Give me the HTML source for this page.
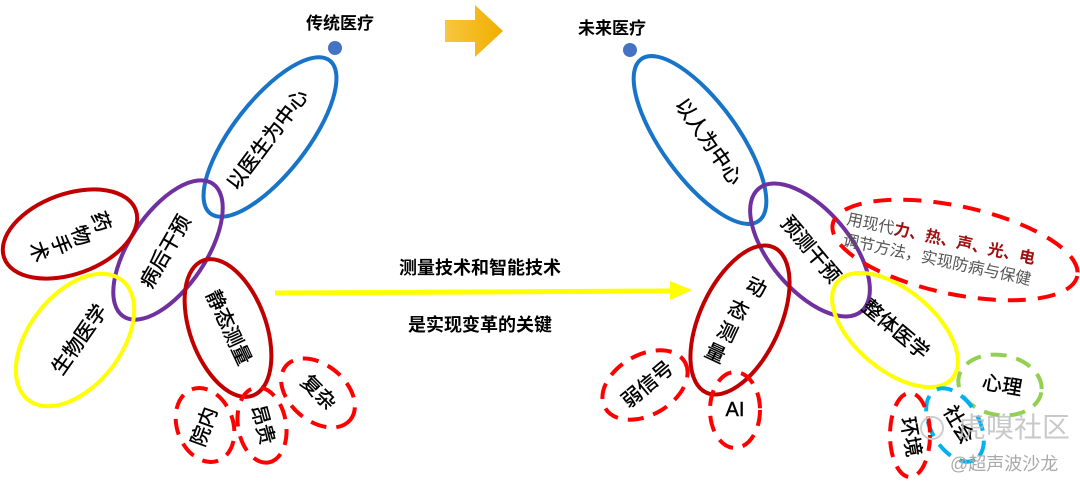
<!DOCTYPE html>
<html><head><meta charset="utf-8"><style>
html,body{margin:0;padding:0;background:#fff;}
svg text{font-family:"Liberation Sans","Noto Sans CJK SC",sans-serif;}
</style></head><body>
<svg width="1080" height="487" viewBox="0 0 1080 487" xmlns="http://www.w3.org/2000/svg">
<defs><linearGradient id="og" x1="0" x2="1"><stop offset="0" stop-color="#f8c640"/><stop offset="1" stop-color="#f0ae00"/></linearGradient></defs>
<g fill="none" stroke-width="4">
<ellipse cx="270" cy="137" rx="97" ry="37" transform="rotate(-52 270 137)" stroke="#1874c8"/>
<ellipse cx="168" cy="250" rx="80" ry="38" transform="rotate(-56 168 250)" stroke="#7030a0"/>
<ellipse cx="70" cy="234" rx="70" ry="40" transform="rotate(-20 70 234)" stroke="#c00000"/>
<ellipse cx="75" cy="340" rx="76" ry="46" transform="rotate(-52 75 340)" stroke="#ffff00"/>
<ellipse cx="228" cy="328" rx="72" ry="38" transform="rotate(70 228 328)" stroke="#c00000"/>
<g stroke="#ff0000" stroke-dasharray="16 10">
<ellipse cx="205" cy="425" rx="38" ry="28" transform="rotate(70 205 425)"/>
<ellipse cx="262" cy="425" rx="38" ry="24" transform="rotate(80 262 425)"/>
<ellipse cx="318" cy="393" rx="42" ry="28" transform="rotate(40 318 393)"/>
</g>
<ellipse cx="700" cy="140" rx="100" ry="38" transform="rotate(54 700 140)" stroke="#1874c8"/>
<ellipse cx="810" cy="250" rx="80" ry="40" transform="rotate(50 810 250)" stroke="#7030a0"/>
<ellipse cx="740" cy="320" rx="80" ry="40" transform="rotate(-65 740 320)" stroke="#c00000"/>
<ellipse cx="895" cy="330" rx="75" ry="40" transform="rotate(40 895 330)" stroke="#ffff00"/>
<ellipse cx="955" cy="250" rx="125" ry="44" transform="rotate(12 955 250)" stroke="#ff0000" stroke-dasharray="18 12"/>
<ellipse cx="645" cy="385" rx="46" ry="30" transform="rotate(-30 645 385)" stroke="#ff0000" stroke-dasharray="16 10"/>
<ellipse cx="735" cy="410" rx="25" ry="38" stroke="#ff0000" stroke-dasharray="16 10"/>
<ellipse cx="1000" cy="385" rx="42" ry="30" transform="rotate(10 1000 385)" stroke="#92d050" stroke-dasharray="16 10"/>
<ellipse cx="955" cy="425" rx="40" ry="24" transform="rotate(60 955 425)" stroke="#00b0f0" stroke-dasharray="16 10"/>
<ellipse cx="910" cy="435" rx="20" ry="42" stroke="#ff0000" stroke-dasharray="16 10"/>
</g>
<circle cx="335" cy="48" r="7" fill="#4472c4"/>
<circle cx="630" cy="50" r="7" fill="#4472c4"/>
<text x="340" y="29" font-size="17" font-weight="bold" text-anchor="middle">传统医疗</text>
<text x="612" y="34" font-size="17" font-weight="bold" text-anchor="middle">未来医疗</text>
<polygon points="445,20 475,20 475,5 503,31 475,57 475,42 445,42" fill="url(#og)"/>
<line x1="275" y1="293" x2="672" y2="291" stroke="#ffff00" stroke-width="5"/>
<polygon points="670,281 692,290 670,300" fill="#ffff00"/>
<text x="480" y="274" font-size="18" font-weight="bold" text-anchor="middle">测量技术和智能技术</text>
<text x="480" y="331" font-size="18" font-weight="bold" text-anchor="middle">是实现变革的关键</text>
<g font-size="20" text-anchor="middle" dominant-baseline="central" stroke="#000" stroke-width="0.4">
<text transform="translate(268,140) rotate(-53)">以医生为中心</text>
<text transform="translate(166,252) rotate(-60)">病后干预</text>
<text transform="translate(100,222) rotate(70)">药</text>
<text transform="translate(80,236) rotate(70)">物</text>
<text transform="translate(60,245) rotate(70)">手</text>
<text transform="translate(38,252) rotate(70)">术</text>
<text transform="translate(80,340) rotate(-55)">生物医学</text>
<text transform="translate(228,328) rotate(65)">静态测量</text>
<text transform="translate(205,427) rotate(-70)">院内</text>
<text transform="translate(262,425) rotate(75)">昂贵</text>
<text transform="translate(318,393) rotate(45)">复杂</text>
<text transform="translate(708,142) rotate(55)">以人为中心</text>
<text transform="translate(810,250) rotate(50)">预测干预</text>
<text transform="translate(756,288) rotate(25)">动</text>
<text transform="translate(738,311) rotate(25)">态</text>
<text transform="translate(727,333) rotate(25)">测</text>
<text transform="translate(715,354) rotate(25)">量</text>
<text transform="translate(895,330) rotate(40)">整体医学</text>
<text transform="translate(648,385) rotate(-40)">弱信号</text>
<text x="735" y="410">AI</text>
<text transform="translate(1002,386) rotate(10)">心理</text>
<text transform="translate(958,425) rotate(60)">社会</text>
<text transform="translate(910,437) rotate(80)">环境</text>
</g>
<g font-size="16" fill="#555">
<text transform="translate(846,224) rotate(12)">用现代<tspan fill="#a01010" font-weight="bold">力、热、声、光、电</tspan></text>
<text transform="translate(842,245) rotate(12)">调节方法，实现防病与保健</text>
</g>
<text x="958" y="437" font-size="28" fill="#bbb" fill-opacity="0.8">虎嗅社区</text>
<circle cx="932" cy="428" r="11" fill="none" stroke="#ccc" stroke-width="2"/>
<text x="950" y="470" font-size="18" fill="#aaa">@超声波沙龙</text>
</svg>
</body></html>
